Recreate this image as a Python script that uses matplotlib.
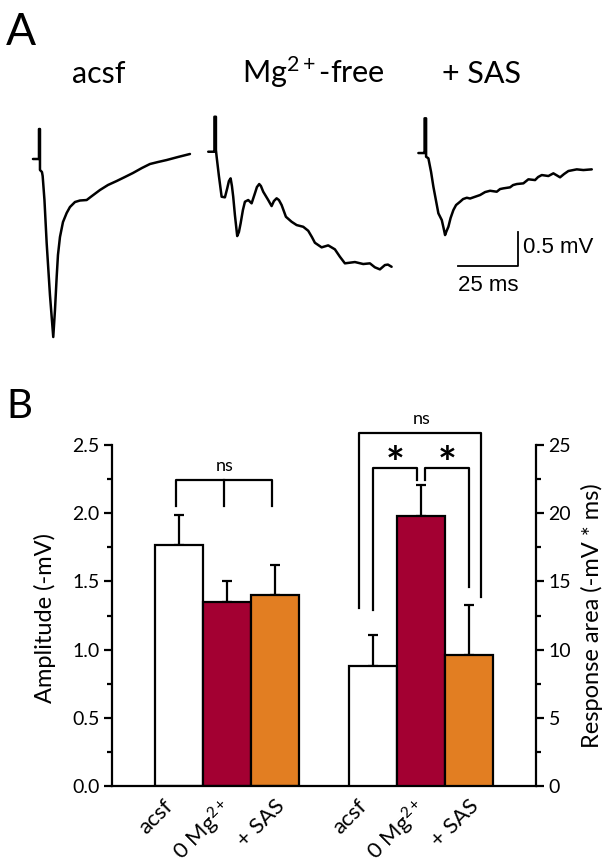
import matplotlib

matplotlib.use("Agg")
import matplotlib.pyplot as plt
from matplotlib.ticker import MultipleLocator
from matplotlib.transforms import ScaledTranslation

plt.rcParams["font.family"] = ["Lato", "DejaVu Sans"]
plt.rcParams["mathtext.fontset"] = "custom"
plt.rcParams["mathtext.rm"] = "Lato"
plt.rcParams["mathtext.it"] = "Lato:italic"
plt.rcParams["mathtext.bf"] = "Lato:bold"

# ---- panel A : example field potentials (ms, mV relative to baseline) ----
acsf_t = [0, 2.48, 2.48, 2.89, 2.89, 3.71, 4.00, 4.74, 5.65, 7.01, 8.37, 9.08,
          9.78, 10.31, 11.14, 12.38, 13.90, 15.26, 17.33, 19.39, 22.15, 24.34,
          27.64, 30.94, 34.53, 37.95, 41.25, 44.96, 48.26, 51.56, 55.15, 59.81,
          64.76]
acsf_v = [0, 0, 0.437, 0.437, -0.160, -0.190, -0.248, -0.598, -1.225, -1.983,
          -2.595, -2.202, -1.720, -1.400, -1.137, -0.919, -0.787, -0.700, -0.627,
          -0.605, -0.598, -0.539, -0.452, -0.379, -0.321, -0.262, -0.204, -0.131,
          -0.073, -0.044, -0.015, 0.029, 0.073]

mgfree_t = [0, 2.06, 2.56, 2.56, 3.18, 3.18, 3.47, 4.41, 5.53, 6.89, 7.84, 8.54,
            9.24, 9.78, 10.31, 11.01, 11.96, 12.66, 13.37, 14.31, 15.14, 16.50,
            17.90, 19.26, 20.09, 21.04, 21.74, 22.69, 24.75, 26.15, 27.10, 28.22,
            29.16, 30.28, 32.05, 34.40, 36.47, 39.19, 41.25, 42.78, 44.01, 46.78,
            49.50, 52.26, 54.33, 56.39, 60.51, 63.94, 66.70, 68.76, 70.83, 72.89,
            74.13, 75.65]
mgfree_v = [0, 0, 0, 0.510, 0.510, 0.025, -0.073, -0.354, -0.656, -0.665, -0.534,
            -0.427, -0.388, -0.500, -0.656, -0.923, -1.229, -1.171, -1.044, -0.850,
            -0.729, -0.704, -0.752, -0.607, -0.515, -0.471, -0.500, -0.583, -0.704,
            -0.792, -0.719, -0.679, -0.704, -0.777, -0.948, -1.021, -1.069, -1.094,
            -1.152, -1.244, -1.327, -1.394, -1.365, -1.423, -1.531, -1.627, -1.608,
            -1.637, -1.627, -1.685, -1.715, -1.652, -1.645, -1.677]

sas_t = [0, 2.06, 2.56, 2.56, 3.18, 3.18, 4.13, 5.24, 6.19, 7.30, 8.25, 9.65,
         10.40, 11.01, 11.63, 12.38, 13.28, 14.44, 15.55, 17.20, 18.44, 19.97,
         21.33, 22.69, 25.46, 27.52, 29.58, 32.34, 33.70, 35.06, 37.82, 39.06,
         40.59, 43.31, 45.38, 48.14, 49.38, 50.90, 53.63, 55.69, 58.45, 60.10,
         61.88, 65.34, 68.06, 71.53]
sas_v = [0, 0, 0, 0.506, 0.506, -0.054, -0.077, -0.277, -0.491, -0.700, -0.879,
         -0.977, -1.094, -1.196, -1.137, -1.075, -0.948, -0.831, -0.758, -0.710,
         -0.671, -0.652, -0.663, -0.646, -0.612, -0.569, -0.550, -0.564, -0.525,
         -0.515, -0.500, -0.467, -0.452, -0.442, -0.383, -0.394, -0.350, -0.321,
         -0.335, -0.296, -0.354, -0.306, -0.262, -0.238, -0.248, -0.238]

trace_titles = ["acsf", r"Mg$^{\mathregular{2+}}$-free", "+ SAS"]

# ---- panel B : summary ----
conditions = ["acsf", r"0 Mg$^{\mathregular{2+}}$", "+ SAS"]
amp_mean = [1.77, 1.35, 1.40]
amp_sem = [0.22, 0.15, 0.22]
area_mean = [8.8, 19.8, 9.6]
area_sem = [2.3, 2.3, 3.7]
bar_colors = ["white", "#A30032", "#E27E22"]

W, H = 612, 866
fig = plt.figure(figsize=(W / 100, H / 100), dpi=100)


def px(x, y):
    return x / W, 1 - y / H


# panel A, 25 ms = 60.6 px, 0.5 mV = 34.3 px
ms_px = 60.6 / 25
mv_px = 34.3 / 0.5
axA = fig.add_axes([0, 1 - 360 / H, 1, 260 / H])
axA.set_xlim(0, W / ms_px)
axA.set_ylim(0, 260 / mv_px)
axA.axis("off")

offsets = [(13.6, 2.930), (85.9, 3.036), (172.6, 3.017)]
for (tt, vv), (t0, v0) in zip(
    [(acsf_t, acsf_v), (mgfree_t, mgfree_v), (sas_t, sas_v)], offsets
):
    axA.plot([t + t0 for t in tt], [v + v0 for v in vv], color="black",
             lw=1.8, solid_joinstyle="round", solid_capstyle="round")

sb_x, sb_y = 213.8, 1.370
axA.plot([sb_x - 25, sb_x, sb_x], [sb_y, sb_y, sb_y + 0.5], color="black",
         lw=1.3)
axA.text(sb_x + 2.0, sb_y + 0.27, "0.5 mV", ha="left", va="center",
         fontsize=16, family="Liberation Sans")
axA.text(sb_x - 12.5, sb_y - 0.28, "25 ms", ha="center", va="center",
         fontsize=16, family="Liberation Sans")

for title, xc in zip(trace_titles, [98.5, 313, 482]):
    fig.text(*px(xc, 83), title, ha="center", va="baseline", fontsize=22)

fig.text(*px(6, 12), "A", ha="left", va="top", fontsize=32)
fig.text(*px(6, 388), "B", ha="left", va="top", fontsize=29)

# panel B
ax = fig.add_axes([112 / W, 80 / H, 424 / W, 341 / H])
ax2 = ax.twinx()
left_x = [1.39, 2.39, 3.39]
right_x = [5.43, 6.43, 7.43]
ax.set_xlim(0, 424 / 48)

ax.bar(left_x, amp_mean, width=1.0, color=bar_colors, edgecolor="black",
       linewidth=1.6, zorder=2)
ax.errorbar(left_x, amp_mean, yerr=[[0] * 3, amp_sem], fmt="none",
            ecolor="black", elinewidth=1.6, capsize=3.3, capthick=1.6, zorder=1)
ax2.bar(right_x, area_mean, width=1.0, color=bar_colors, edgecolor="black",
        linewidth=1.6, zorder=2)
ax2.errorbar(right_x, area_mean, yerr=[[0] * 3, area_sem], fmt="none",
             ecolor="black", elinewidth=1.6, capsize=3.3, capthick=1.6, zorder=1)

ax.set_ylim(0, 2.5)
ax2.set_ylim(0, 25)
ax.yaxis.set_major_locator(MultipleLocator(0.5))
ax.yaxis.set_minor_locator(MultipleLocator(0.25))
ax2.yaxis.set_major_locator(MultipleLocator(5))
ax2.yaxis.set_minor_locator(MultipleLocator(2.5))
ax.yaxis.set_major_formatter(lambda v, _: f"{v:.1f}")

for a in (ax, ax2):
    for s in a.spines.values():
        s.set_linewidth(1.6)
    a.spines["top"].set_visible(False)
    a.tick_params(axis="y", which="major", length=6, width=1.6, labelsize=14,
                  pad=3)
    a.tick_params(axis="y", which="minor", length=3.5, width=1.6)
ax.spines["right"].set_visible(False)
ax2.spines["left"].set_visible(False)
ax2.spines["bottom"].set_visible(False)

ax.set_xticks(left_x + right_x)
ax.set_xticklabels(conditions * 2, rotation=45, ha="right",
                   rotation_mode="anchor", fontsize=16)
ax.tick_params(axis="x", length=0, pad=7)
for lab, dx in zip(ax.get_xticklabels(), [-16, -8, 0, -16, -8, 0]):
    lab.set_transform(lab.get_transform()
                      + ScaledTranslation(dx / 100, 0, fig.dpi_scale_trans))

ax.text(-0.158, 0.493, "Amplitude (-mV)", transform=ax.transAxes,
        rotation=90, ha="center", va="center", fontsize=17)
ax.text(1.132, 0.4985, "Response area (-mV * ms)", transform=ax.transAxes,
        rotation=90, ha="center", va="center", fontsize=17)

# significance brackets
kw = dict(color="black", lw=1.6, clip_on=False, zorder=3)
bl = [x - 0.05 for x in left_x]
ax.plot([bl[0], bl[0], bl[2], bl[2]], [2.05, 2.243, 2.243, 2.05], **kw)
ax.plot([bl[1], bl[1]], [2.243, 2.05], **kw)
ax.text(bl[1], 2.29, "ns", ha="center", va="bottom", fontsize=13)

r = right_x
ax2.plot([r[0] - 0.29, r[0] - 0.29, r[2] + 0.26, r[2] + 0.26],
         [13.05, 25.88, 25.88, 13.86], **kw)
ax2.text(r[1] + 0.02, 26.3, "ns", ha="center", va="bottom", fontsize=13)
ax2.plot([r[0], r[0], r[1] - 0.08, r[1] - 0.08],
         [12.9, 23.31, 23.31, 22.43], **kw)
ax2.plot([r[1] + 0.1, r[1] + 0.1, r[2], r[2]],
         [22.43, 23.31, 23.31, 14.59], **kw)
ax2.text((r[0] + r[1] - 0.08) / 2, 22.1, "*", ha="center", va="bottom",
         fontsize=32, fontweight="bold")
ax2.text((r[1] + 0.1 + r[2]) / 2, 22.1, "*", ha="center", va="bottom",
         fontsize=32, fontweight="bold")

fig.savefig("out.png", dpi=100)
